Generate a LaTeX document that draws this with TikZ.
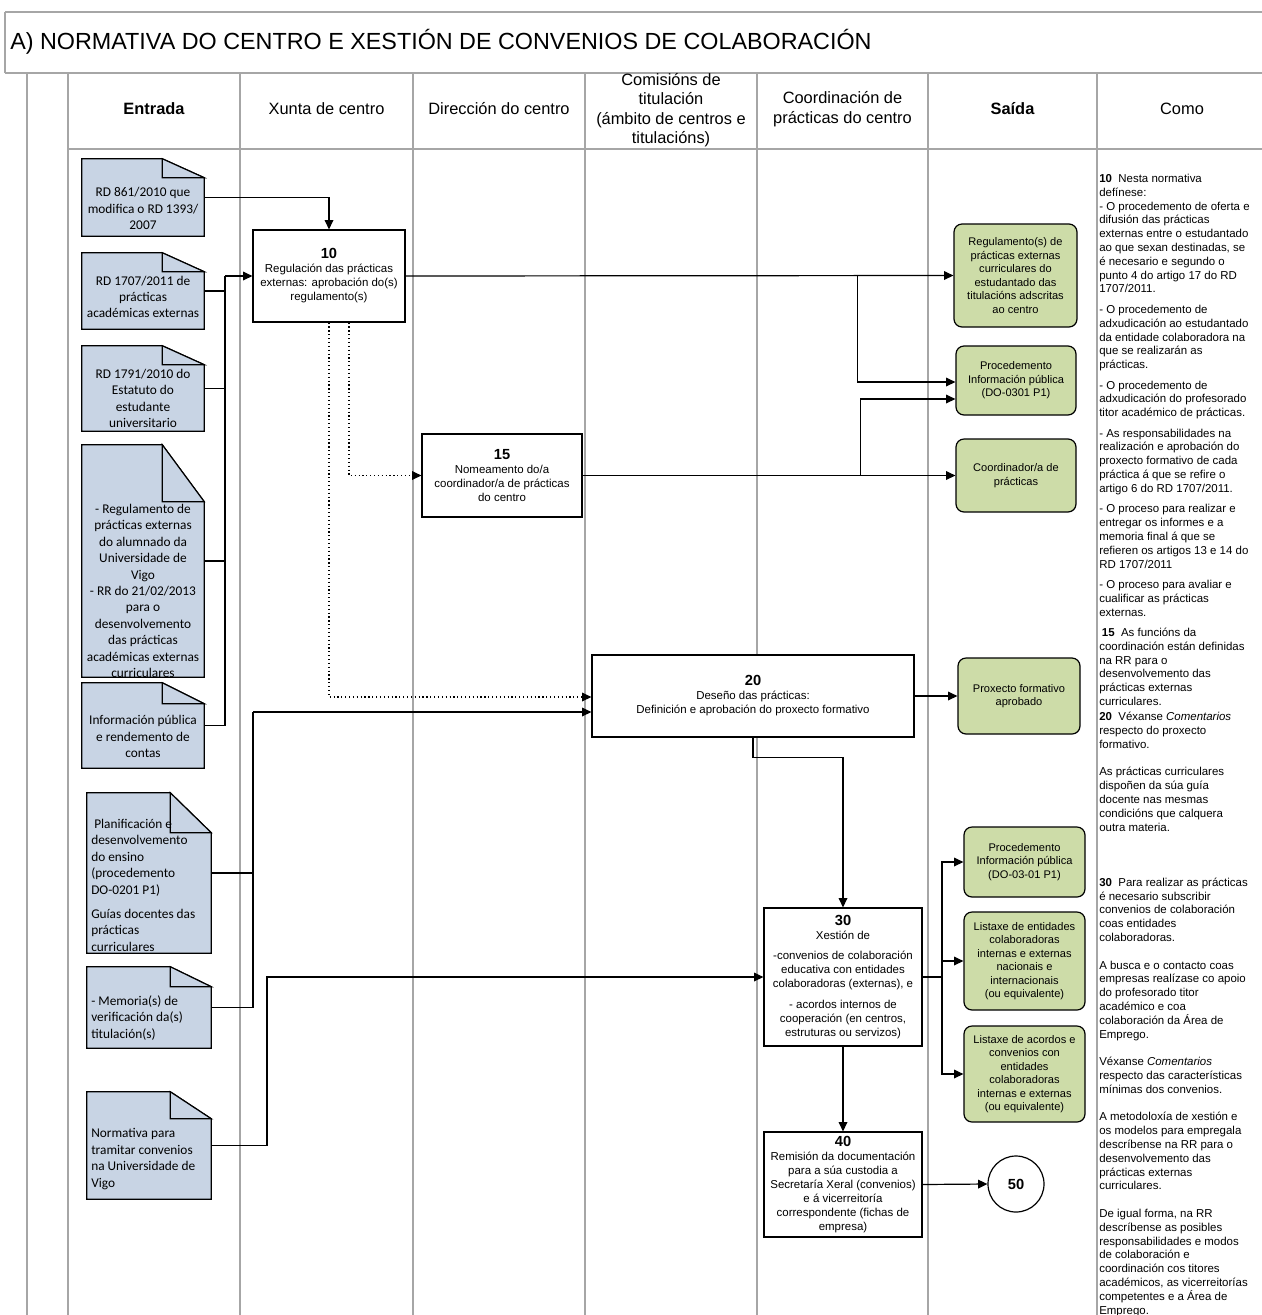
\documentclass[tikz,border=0pt]{standalone}
\usepackage{fontspec}
\setmainfont{Liberation Sans}
\newfontfamily\docfont{Carlito}
\usetikzlibrary{arrows.meta,calc}
\definecolor{docblue}{HTML}{C8D4E4}
\definecolor{outgreen}{HTML}{CDDCA8}
\definecolor{lanegray}{HTML}{A6A6A6}
\def\pxu{*0.75pt}
\newcommand\numf[1]{{\fontsize{11}{11}\selectfont\bfseries #1}}
\newcommand\docpath[3]{%
  \draw[docshape] (#1.south west) -- (#1.north west) -- ($(#1.north east)+(-#2,0)$) -- ($(#1.north east)+(0,#3)$) -- (#1.south east) -- cycle;
  \draw[docshape] ($(#1.north east)+(-#2,0)$) -- ($(#1.north east)+(-#2,#3)$) -- ($(#1.north east)+(0,#3)$) -- cycle;
}
\begin{document}
\begin{tikzpicture}[x=0.75pt,y=-0.75pt,
  lane/.style={draw=lanegray,line width=1.1pt},
  procbox/.style={draw=black,line width=0.9pt,fill=white,align=center,inner sep=0pt,font=\fontsize{8.6}{10.5}\selectfont},
  outbox/.style={draw=black,line width=0.9pt,fill=outgreen,rounded corners=6pt,align=center,inner sep=0pt,font=\fontsize{8.3}{10.1}\selectfont},
  docframe/.style={draw=none,inner sep=0pt},
  docshape/.style={draw=black,line width=0.9pt,fill=docblue,line join=miter},
  doctext/.style={font=\docfont\fontsize{10}{12.3}\selectfont,align=center,inner sep=0pt},
  link/.style={draw=black,line width=0.9pt},
  arr/.style={link,-{Triangle[length=7pt,width=6.5pt]}},
  dotarr/.style={arr,dotted},
  header/.style={font=\fontsize{12.3}{14.6}\selectfont,align=center,inner sep=0pt}]
\useasboundingbox (0,0) rectangle (1262,1315);
% frame and lanes
\draw[lane] (5,12) -- (1290,12);
\draw[lane] (5,12) -- (5,73);
\draw[lane] (5,73) -- (1290,73);
\draw[lane] (68,149) -- (1290,149);
\foreach \xx in {27,68,240,413,585,757,928,1097}{\draw[lane] (\xx,73) -- (\xx,1330);}
% title and headers
\node[anchor=west,inner sep=0pt,font=\fontsize{17.5}{20}\selectfont] (title) at (10,42) {A) NORMATIVA DO CENTRO E XESTIÓN DE CONVENIOS DE COLABORACIÓN};
\node[header,font=\fontsize{12.3}{14.6}\selectfont\bfseries] (h1) at (154,109) {Entrada};
\node[header] (h2) at (326.5,109) {Xunta de centro};
\node[header] (h3) at (499,109) {Dirección do centro};
\node[header] (h4) at (671,110) {Comisións de\\titulación\\(ámbito de centros e\\titulacións)};
\node[header] (h5) at (842.5,109) {Coordinación de\\prácticas do centro};
\node[header,font=\fontsize{12.3}{14.6}\selectfont\bfseries] (h6) at (1012.5,109) {Saída};
\node[header] (h7) at (1182,109) {Como};
% documents
\node[docframe,minimum width=122\pxu,minimum height=77\pxu] (d1) at (143,197.5) {};
\node[docframe,minimum width=122\pxu,minimum height=76\pxu] (d2) at (143,291) {};
\node[docframe,minimum width=122\pxu,minimum height=85\pxu] (d3) at (143,388.5) {};
\node[docframe,minimum width=122\pxu,minimum height=232\pxu] (d4) at (143,561) {};
\node[docframe,minimum width=122\pxu,minimum height=85\pxu] (d5) at (143,725.5) {};
\node[docframe,minimum width=124\pxu,minimum height=160\pxu] (d6) at (149,873) {};
\node[docframe,minimum width=124\pxu,minimum height=81\pxu] (d7) at (149,1007.5) {};
\node[docframe,minimum width=124\pxu,minimum height=107\pxu] (d8) at (149,1145.5) {};
\docpath{d1}{42}{19}
\docpath{d2}{42}{19}
\docpath{d3}{42}{19}
\docpath{d4}{42}{57}
\docpath{d5}{42}{21}
\docpath{d6}{41}{40}
\docpath{d7}{41}{20}
\docpath{d8}{41}{27}
\node[doctext] (d1t) at (143,208.5) {RD 861/2010 que\\modifica o RD 1393/\\2007};
\node[doctext] (d2t) at (143,297) {RD 1707/2011 de\\prácticas\\académicas externas};
\node[doctext] (d3t) at (143,398.5) {RD 1791/2010 do\\Estatuto do\\estudante\\universitario};
\node[doctext] (d4t) at (143,591) {- Regulamento de\\prácticas externas\\do alumnado da\\Universidade de\\Vigo\\- RR do 21/02/2013\\para o\\desenvolvemento\\das prácticas\\académicas externas\\curriculares};
\node[doctext] (d5t) at (143,736.5) {Información pública\\e rendemento de\\contas};
\node[doctext,align=left,anchor=north west] (d6t) at (91,819) {\ Planificación e\\desenvolvemento\\do ensino\\(procedemento\\DO-0201 P1)\\[6pt]Guías docentes das\\prácticas\\curriculares};
\node[doctext,align=left,anchor=west] (d7t) at (91,1018) {- Memoria(s) de\\verificación da(s)\\titulación(s)};
\node[doctext,align=left,anchor=west] (d8t) at (91,1159) {Normativa para\\tramitar convenios\\na Universidade de\\Vigo};
% process boxes
\node[procbox,minimum width=152\pxu,minimum height=92\pxu] (b10) at (329,276) {\numf{10}\\Regulación das prácticas\\externas: aprobación do(s)\\regulamento(s)};
\node[procbox,minimum width=160\pxu,minimum height=83\pxu] (b15) at (502,475.5) {\numf{15}\\Nomeamento do/a\\coordinador/a de prácticas\\do centro};
\node[procbox,minimum width=322\pxu,minimum height=82\pxu] (b20) at (753,696) {\numf{20}\\Deseño das prácticas:\\Definición e aprobación do proxecto formativo};
\node[procbox,minimum width=158\pxu,minimum height=138\pxu] (b30) at (843,977) {\numf{30}\\Xestión de\\[5pt]-convenios de colaboración\\educativa con entidades\\colaboradoras (externas), e\\[5pt]- acordos internos de\\cooperación (en centros,\\estruturas ou servizos)};
\node[procbox,minimum width=158\pxu,minimum height=105\pxu] (b40) at (843,1184.5) {\numf{40}\\Remisión da documentación\\para a súa custodia a\\Secretaría Xeral (convenios)\\e á vicerreitoría\\correspondente (fichas de\\empresa)};
\node[circle,draw=black,line width=0.9pt,fill=white,minimum size=56\pxu,inner sep=0pt,font=\fontsize{11}{11}\selectfont\bfseries] (n50) at (1016,1184) {50};
% outputs
\node[outbox,minimum width=123\pxu,minimum height=103\pxu] (g1) at (1015.5,275.5) {Regulamento(s) de\\prácticas externas\\curriculares do\\estudantado das\\titulacións adscritas\\ao centro};
\node[outbox,minimum width=120\pxu,minimum height=69\pxu] (g2) at (1016,380.5) {Procedemento\\Información pública\\(DO-0301 P1)};
\node[outbox,minimum width=120\pxu,minimum height=73\pxu] (g3) at (1016,475.5) {Coordinador/a de\\prácticas};
\node[outbox,minimum width=122\pxu,minimum height=76\pxu] (g4) at (1019,696) {Proxecto formativo\\aprobado};
\node[outbox,minimum width=121\pxu,minimum height=70\pxu] (g5) at (1024.5,862) {Procedemento\\Información pública\\(DO-03-01 P1)};
\node[outbox,minimum width=121\pxu,minimum height=98\pxu] (g6) at (1024.5,961) {Listaxe de entidades\\colaboradoras\\internas e externas\\nacionais e\\internacionais\\(ou equivalente)};
\node[outbox,minimum width=121\pxu,minimum height=96\pxu] (g7) at (1024.5,1074) {Listaxe de acordos e\\convenios con\\entidades\\colaboradoras\\internas e externas\\(ou equivalente)};
% Como text
\node[anchor=north west,align=left,inner sep=0pt,font=\fontsize{8.6}{10.35}\selectfont] (como) at (1099,174) {%
\textbf{10}\ \ Nesta normativa\\
defínese:\\
- O procedemento de oferta e\\
difusión das prácticas\\
externas entre o estudantado\\
ao que sexan destinadas, se\\
é necesario e segundo o\\
punto 4 do artigo 17 do RD\\
1707/2011.\\[5pt]
- O procedemento de\\
adxudicación ao estudantado\\
da entidade colaboradora na\\
que se realizarán as\\
prácticas.\\[5pt]
- O procedemento de\\
adxudicación do profesorado\\
titor académico de prácticas.\\[5pt]
- As responsabilidades na\\
realización e aprobación do\\
proxecto formativo de cada\\
práctica á que se refire o\\
artigo 6 do RD 1707/2011.\\[5pt]
- O proceso para realizar e\\
entregar os informes e a\\
memoria final á que se\\
refieren os artigos 13 e 14 do\\
RD 1707/2011\\[5pt]
- O proceso para avaliar e\\
cualificar as prácticas\\
externas.\\[5pt]
\hspace{2pt}\textbf{15}\ \ As funcións da\\
coordinación están definidas\\
na RR para o\\
desenvolvemento das\\
prácticas externas\\
curriculares.\\[1pt]
\textbf{20}\ \ Véxanse \textit{Comentarios}\\
respecto do proxecto\\
formativo.\\[10.35pt]
As prácticas curriculares\\
dispoñen da súa guía\\
docente nas mesmas\\
condicións que calquera\\
outra materia.\\[31pt]
\textbf{30}\ \ Para realizar as prácticas\\
é necesario subscribir\\
convenios de colaboración\\
coas entidades\\
colaboradoras.\\[10.35pt]
A busca e o contacto coas\\
empresas realízase co apoio\\
do profesorado titor\\
académico e coa\\
colaboración da Área de\\
Emprego.\\[10.35pt]
Véxanse \textit{Comentarios}\\
respecto das características\\
mínimas dos convenios.\\[10.35pt]
A metodoloxía de xestión e\\
os modelos para empregala\\
descríbense na RR para o\\
desenvolvemento das\\
prácticas externas\\
curriculares.\\[10.35pt]
De igual forma, na RR\\
descríbense as posibles\\
responsabilidades e modos\\
de colaboración e\\
coordinación cos titores\\
académicos, as vicerreitorías\\
competentes e a Área de\\
Emprego.};
% connectors
\coordinate (c1) at (225,276);
\coordinate (c2) at (253,712);
\coordinate (c3) at (267,977);
\coordinate (c4) at (942,977);
\draw[arr] (d1.east) -| (b10.north);
\draw[link] (d2.east) -| (c1);
\draw[link] (d3.east) -| (c1);
\draw[link] (d4.east) -| (c1);
\draw[link] (d5.east) -| (c1);
\draw[arr] (c1) -- (b10.west);
\draw[arr] (b10.east) -- (g1.west);
\draw[arr] ($(b10.east)+(452,0)$) |- ($(g2.west)+(0,1.5)$);
\draw[arr] (b15.east) -- (g3.west);
\draw[arr] ($(b15.east)+(278,0)$) |- ($(g2.west)+(0,18.5)$);
\draw[dotarr] ($(b10.south)+(20,0)$) |- (b15.west);
\draw[dotarr] (b10.south) |- ($(b20.west)+(0,1)$);
\draw[link] (d6.east) -| (c2);
\draw[link] (d7.east) -| (c2);
\draw[arr] (c2) -- (c2 -| b20.west);
\draw[arr] (b20.east) -- (g4.west);
\draw[arr] (b20.south) -- ++(0,20) -| (b30.north);
\draw[arr] (d8.east) -| (c3) -- (c3 -| b30.west);
\draw[link] (b30.east) -- (c4);
\draw[arr] (c4) |- (g5.west);
\draw[arr] (c4) |- (g6.west);
\draw[arr] (c4) |- (g7.west);
\draw[arr] (b30.south) -- (b40.north);
\draw[arr] (b40.east) -- (n50.west);
\end{tikzpicture}
\end{document}
